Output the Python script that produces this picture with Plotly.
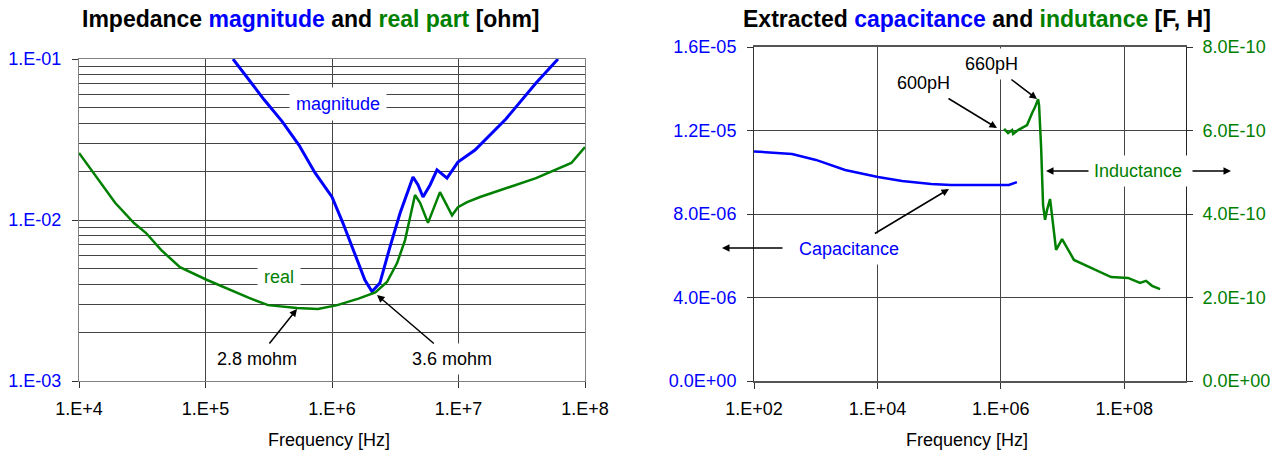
import plotly.graph_objects as go

# ---------------- data ----------------
# Left chart: impedance magnitude and real part [ohm] vs frequency [Hz]
freq_mag = [1.65e5, 2.90e5, 4.03e5, 5.48e5, 7.35e5, 1.0e6, 1.22e6, 1.47e6, 1.82e6,
            2.07e6, 2.39e6, 2.87e6, 3.45e6, 4.37e6, 4.79e6, 5.24e6, 5.96e6, 6.76e6,
            8.11e6, 9.9e6, 1.35e7, 2.37e7, 4.10e7, 6.12e7]
z_mag = [0.100, 0.0560, 0.0410, 0.0292, 0.0196, 0.0139, 0.00957, 0.00652, 0.00424,
         0.0036, 0.00406, 0.00679, 0.0110, 0.0185, 0.0165, 0.0139, 0.0165, 0.0205,
         0.0182, 0.0229, 0.0272, 0.0424, 0.0710, 0.100]

freq_real = [1.0e4, 1.47e4, 1.93e4, 2.72e4, 3.39e4, 4.45e4, 6.28e4, 1.03e5, 1.56e5,
             2.21e5, 3.12e5, 5.28e5, 7.74e5, 1.10e6, 1.62e6, 2.20e6, 2.72e6, 3.27e6,
             3.78e6, 4.14e6, 4.53e6, 4.97e6, 5.74e6, 7.14e6, 8.89e6, 9.9e6, 1.17e7,
             1.48e7, 2.13e7, 4.10e7, 7.80e7, 1.0e8]
z_real = [0.0261, 0.0172, 0.0128, 0.00957, 0.0083, 0.00652, 0.0051, 0.00424, 0.00367,
          0.00328, 0.00296, 0.00284, 0.0028, 0.00296, 0.00325, 0.00355, 0.00412, 0.0054,
          0.0075, 0.0104, 0.0143, 0.0128, 0.0096, 0.0149, 0.0107, 0.0120, 0.0129,
          0.0139, 0.0153, 0.0182, 0.0226, 0.0284]

# Right chart: extracted capacitance [F] and inductance [H]
freq_cap = [1.0e2, 4.13e2, 1.01e3, 2.99e3, 1.02e4, 2.51e4, 7.41e4, 1.55e5, 1.35e6, 1.82e6]
cap = [1.10e-5, 1.087e-5, 1.059e-5, 1.011e-5, 9.77e-6, 9.58e-6, 9.44e-6, 9.39e-6,
       9.39e-6, 9.53e-6]

freq_ind = [1.13e6, 1.31e6, 1.52e6, 1.58e6, 1.90e6, 2.66e6, 3.21e6, 3.58e6, 4.01e6,
            4.16e6, 4.49e6, 4.66e6, 4.83e6, 5.20e6, 5.61e6, 6.27e6, 7.01e6, 7.85e6,
            9.82e6, 1.23e7, 1.53e7, 2.90e7, 6.11e7, 1.15e8, 1.80e8, 2.25e8, 2.82e8, 3.80e8]
ind = [6.04e-10, 5.94e-10, 6.01e-10, 5.92e-10, 6.01e-10, 6.13e-10, 6.42e-10, 6.56e-10,
       6.75e-10, 6.61e-10, 5.60e-10, 4.81e-10, 4.22e-10, 3.86e-10, 4.10e-10, 4.36e-10,
       3.78e-10, 3.14e-10, 3.40e-10, 3.14e-10, 2.90e-10, 2.71e-10, 2.49e-10, 2.47e-10,
       2.35e-10, 2.40e-10, 2.28e-10, 2.20e-10]

# tick labels
x1_ticks = [1e4, 1e5, 1e6, 1e7, 1e8]
x1_text = ["1.E+4", "1.E+5", "1.E+6", "1.E+7", "1.E+8"]
y1_ticks = [1e-3, 1e-2, 1e-1]
y1_text = ["1.E-03", "1.E-02", "1.E-01"]
x2_ticks = [1e2, 1e4, 1e6, 1e8]
x2_text = ["1.E+02", "1.E+04", "1.E+06", "1.E+08"]
y2_ticks = [0, 4e-6, 8e-6, 1.2e-5, 1.6e-5]
y2_text = ["0.0E+00", "4.0E-06", "8.0E-06", "1.2E-05", "1.6E-05"]
y3_ticks = [0, 2e-10, 4e-10, 6e-10, 8e-10]
y3_text = ["0.0E+00", "2.0E-10", "4.0E-10", "6.0E-10", "8.0E-10"]

# ---------------- styling ----------------
W, H = 1283, 450
BLUE = "#0000FF"
GREEN = "#008000"
FONT = "Arial, Liberation Sans, sans-serif"
GRID = "#454545"
TS = 18  # tick / label font size
TT = 23  # title font size


def px(x):
    return x / W


def py(y):
    return 1 - y / H


fig = go.Figure()
fig.add_trace(go.Scatter(x=freq_mag, y=z_mag, mode="lines", line=dict(color=BLUE, width=3),
                         xaxis="x", yaxis="y", showlegend=False))
fig.add_trace(go.Scatter(x=freq_real, y=z_real, mode="lines", line=dict(color=GREEN, width=2.5),
                         xaxis="x", yaxis="y", showlegend=False))
fig.add_trace(go.Scatter(x=freq_cap, y=cap, mode="lines", line=dict(color=BLUE, width=2.5),
                         xaxis="x2", yaxis="y2", showlegend=False))
fig.add_trace(go.Scatter(x=freq_ind, y=ind, mode="lines", line=dict(color=GREEN, width=2.5),
                         xaxis="x2", yaxis="y3", showlegend=False))

common_x = dict(type="log", showgrid=True, gridcolor=GRID, gridwidth=1, showline=True,
                ticks="outside", ticklen=6, tickcolor="#333", zeroline=False,
                automargin=False, ticklabelstandoff=5,
                tickfont=dict(family=FONT, size=TS, color="black"))
common_y = dict(showline=True, ticks="outside", ticklen=6, tickcolor="#333", zeroline=False,
                automargin=False)

fig.update_layout(
    width=W, height=H, margin=dict(l=0, r=0, t=0, b=0, autoexpand=False),
    paper_bgcolor="white", plot_bgcolor="white",
    font=dict(family=FONT, size=TS, color="black"),
    xaxis=dict(domain=[px(79), px(585)], range=[4, 8], tickvals=x1_ticks, ticktext=x1_text,
               linecolor="#808080", mirror=True, anchor="y", **common_x),
    yaxis=dict(domain=[py(381), py(59)], type="log", range=[-3, -1], tickvals=y1_ticks,
               ticktext=y1_text, showgrid=True, gridcolor=GRID,
               linecolor="#808080", mirror=True, anchor="x", ticklabelstandoff=7,
               tickfont=dict(family=FONT, size=TS, color=BLUE),
               minor=dict(dtick="D1", showgrid=True, gridcolor=GRID, gridwidth=1, ticks=""),
               **common_y),
    xaxis2=dict(domain=[px(754), px(1186)], range=[2, 9], tickvals=x2_ticks, ticktext=x2_text,
                linecolor="#555", linewidth=1.5, mirror=True, anchor="y2", **common_x),
    yaxis2=dict(domain=[py(381), py(47)], range=[0, 1.6e-5], tickvals=y2_ticks, ticktext=y2_text,
                showgrid=True, gridcolor=GRID, linecolor="#333", anchor="x2",
                ticklabelstandoff=7,
                tickfont=dict(family=FONT, size=TS, color=BLUE), **common_y),
    yaxis3=dict(range=[0, 8e-10], tickvals=y3_ticks, ticktext=y3_text, overlaying="y2",
                side="right", anchor="x2", showgrid=False, linecolor="#222",
                ticklabelstandoff=6,
                tickfont=dict(family=FONT, size=TS, color=GREEN), **common_y),
)

ann = []
center = dict(xref="paper", yref="paper", xanchor="center", yanchor="middle")
# titles
ann.append(dict(x=px(311), y=py(19), showarrow=False,
                text="<b>Impedance <span style='color:#0000FF'>magnitude</span> and "
                     "<span style='color:#008000'>real part</span> [ohm]</b>",
                font=dict(family=FONT, size=TT, color="black"), **center))
ann.append(dict(x=px(977), y=py(19), showarrow=False,
                text="<b>Extracted <span style='color:#0000FF'>capacitance</span> and "
                     "<span style='color:#008000'>indutance</span> [F, H]</b>",
                font=dict(family=FONT, size=TT, color="black"), **center))
# axis titles
for cx in (329, 967):
    ann.append(dict(x=px(cx), y=py(440), showarrow=False, text="Frequency [Hz]",
                    font=dict(family=FONT, size=TS, color="black"), **center))


def text_label(x, y, t, color):
    return dict(x=px(x), y=py(y), text=t, showarrow=False, bgcolor="white", borderpad=6,
                font=dict(family=FONT, size=TS, color=color), **center)


def arrow_label(hx, hy, tx, ty, t, color="black"):
    return dict(x=px(hx), y=py(hy), ax=tx - hx, ay=ty - hy, text=t, showarrow=True,
                arrowhead=2, arrowsize=1, arrowwidth=1.5, arrowcolor="black",
                bgcolor="white", borderpad=5,
                font=dict(family=FONT, size=TS, color=color), **center)


def bare_arrow(hx, hy, tx, ty):
    return dict(x=px(hx), y=py(hy), ax=tx - hx, ay=ty - hy, text="", showarrow=True,
                arrowhead=2, arrowsize=1, arrowwidth=1.5, arrowcolor="black",
                xref="paper", yref="paper")


ann.append(text_label(338, 104, "magnitude", BLUE))
ann.append(text_label(279, 277, "real", GREEN))
ann.append(arrow_label(297, 309, 257, 359, "2.8 mohm"))
ann.append(arrow_label(377, 295, 452, 359, "3.6 mohm"))
ann.append(arrow_label(1037, 99, 991, 64, "660pH"))
ann.append(arrow_label(997, 128, 923, 83, "600pH"))
ann.append(arrow_label(949, 189, 849, 249, "Capacitance", BLUE))
ann.append(bare_arrow(722, 248, 784, 248))
ann.append(arrow_label(1046, 171, 1138, 171, "Inductance", GREEN))
ann.append(bare_arrow(1231, 171, 1191, 171))

fig.update_layout(annotations=ann)
fig.write_html("out.html")
